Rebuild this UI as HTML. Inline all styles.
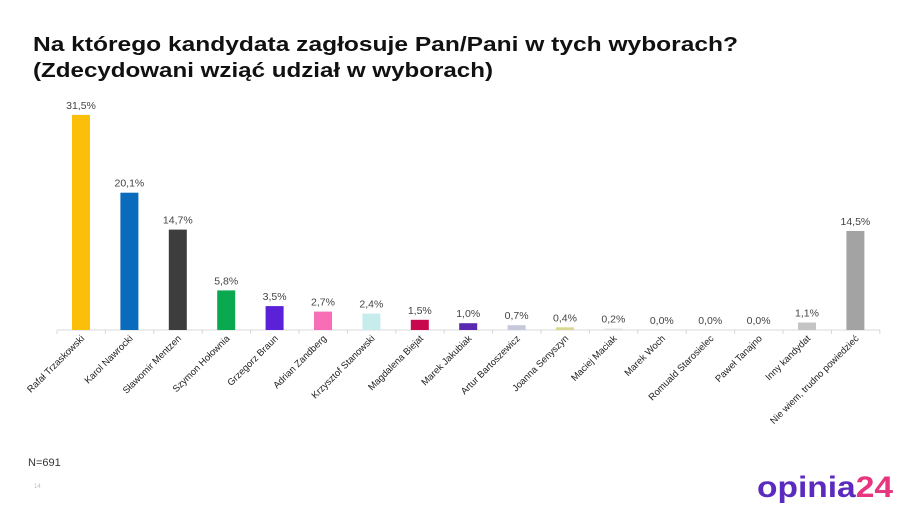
<!DOCTYPE html>
<html><head><meta charset="utf-8"><style>
body{margin:0;background:#fff;width:915px;height:514px;overflow:hidden;font-family:"Liberation Sans",sans-serif}
</style></head><body>
<svg width="915" height="514" xmlns="http://www.w3.org/2000/svg" font-family="Liberation Sans, sans-serif">
<text x="33" y="51" font-size="20" font-weight="bold" fill="#111" textLength="705" lengthAdjust="spacingAndGlyphs">Na którego kandydata zagłosuje Pan/Pani w tych wyborach?</text>
<text x="33" y="77" font-size="20" font-weight="bold" fill="#111" textLength="460" lengthAdjust="spacingAndGlyphs">(Zdecydowani wziąć udział w wyborach)</text>
<line x1="57" y1="330" x2="880" y2="330" stroke="#d9d9d9" stroke-width="1"/>
<g stroke="#d9d9d9">
<line x1="57" y1="330" x2="57" y2="334"/><line x1="105.4" y1="330" x2="105.4" y2="334"/><line x1="153.8" y1="330" x2="153.8" y2="334"/><line x1="202.2" y1="330" x2="202.2" y2="334"/><line x1="250.6" y1="330" x2="250.6" y2="334"/><line x1="299" y1="330" x2="299" y2="334"/><line x1="347.4" y1="330" x2="347.4" y2="334"/><line x1="395.8" y1="330" x2="395.8" y2="334"/><line x1="444.2" y1="330" x2="444.2" y2="334"/><line x1="492.6" y1="330" x2="492.6" y2="334"/><line x1="541" y1="330" x2="541" y2="334"/><line x1="589.4" y1="330" x2="589.4" y2="334"/><line x1="637.8" y1="330" x2="637.8" y2="334"/><line x1="686.2" y1="330" x2="686.2" y2="334"/><line x1="734.6" y1="330" x2="734.6" y2="334"/><line x1="783" y1="330" x2="783" y2="334"/><line x1="831.4" y1="330" x2="831.4" y2="334"/><line x1="879.8" y1="330" x2="879.8" y2="334"/>
</g>
<g>
<rect x="72" y="114.9" width="18" height="215.1" fill="#fbbf0a"/>
<rect x="120.4" y="192.7" width="18" height="137.3" fill="#0a6bbd"/>
<rect x="168.8" y="229.6" width="18" height="100.4" fill="#3d3d3d"/>
<rect x="217.2" y="290.4" width="18" height="39.6" fill="#0aa84f"/>
<rect x="265.6" y="306.1" width="18" height="23.9" fill="#5b21d9"/>
<rect x="314" y="311.6" width="18" height="18.4" fill="#f76eb6"/>
<rect x="362.4" y="313.6" width="18" height="16.4" fill="#c6ecec"/>
<rect x="410.8" y="319.8" width="18" height="10.2" fill="#c8084e"/>
<rect x="459.2" y="323.2" width="18" height="6.8" fill="#5a2ab0"/>
<rect x="507.6" y="325.2" width="18" height="4.8" fill="#c8c8dc"/>
<rect x="556" y="327.3" width="18" height="2.7" fill="#d8d890"/>
<rect x="604.4" y="328.6" width="18" height="1.4" fill="#e0e0e0"/>
<rect x="798" y="322.5" width="18" height="7.5" fill="#c4c4c4"/>
<rect x="846.4" y="231" width="18" height="99" fill="#a3a3a3"/>
</g>
<g font-size="10.5" fill="#444" text-anchor="middle">
<text x="81" y="108.9">31,5%</text>
<text x="129.4" y="186.7">20,1%</text>
<text x="177.8" y="223.6">14,7%</text>
<text x="226.2" y="284.4">5,8%</text>
<text x="274.6" y="300.1">3,5%</text>
<text x="323" y="305.6">2,7%</text>
<text x="371.4" y="307.6">2,4%</text>
<text x="419.8" y="313.8">1,5%</text>
<text x="468.2" y="317.2">1,0%</text>
<text x="516.6" y="319.2">0,7%</text>
<text x="565" y="321.3">0,4%</text>
<text x="613.4" y="322.6">0,2%</text>
<text x="661.8" y="324">0,0%</text>
<text x="710.2" y="324">0,0%</text>
<text x="758.6" y="324">0,0%</text>
<text x="807" y="316.5">1,1%</text>
<text x="855.4" y="225">14,5%</text>
</g>
<g font-size="9.5" fill="#222" text-anchor="end">
<text transform="translate(85,339) rotate(-45)">Rafał Trzaskowski</text>
<text transform="translate(133.4,339) rotate(-45)">Karol Nawrocki</text>
<text transform="translate(181.8,339) rotate(-45)">Sławomir Mentzen</text>
<text transform="translate(230.2,339) rotate(-45)">Szymon Hołownia</text>
<text transform="translate(278.6,339) rotate(-45)">Grzegorz Braun</text>
<text transform="translate(327,339) rotate(-45)">Adrian Zandberg</text>
<text transform="translate(375.4,339) rotate(-45)">Krzysztof Stanowski</text>
<text transform="translate(423.8,339) rotate(-45)">Magdalena Biejat</text>
<text transform="translate(472.2,339) rotate(-45)">Marek Jakubiak</text>
<text transform="translate(520.6,339) rotate(-45)">Artur Bartoszewicz</text>
<text transform="translate(569,339) rotate(-45)">Joanna Senyszyn</text>
<text transform="translate(617.4,339) rotate(-45)">Maciej Maciak</text>
<text transform="translate(665.8,339) rotate(-45)">Marek Woch</text>
<text transform="translate(714.2,339) rotate(-45)">Romuald Starosielec</text>
<text transform="translate(762.6,339) rotate(-45)">Paweł Tanajno</text>
<text transform="translate(811,339) rotate(-45)">Inny kandydat</text>
<text transform="translate(859.4,339) rotate(-45)">Nie wiem, trudno powiedzieć</text>
</g>
<text x="28" y="466" font-size="11" fill="#333">N=691</text>
<text x="34" y="488" font-size="6" fill="#bbb">14</text>
<text x="757" y="497" font-size="30" font-weight="bold" fill="#5b2bbf" textLength="136" lengthAdjust="spacingAndGlyphs">opinia<tspan fill="#e8357f">24</tspan></text>
</svg>
</body></html>
